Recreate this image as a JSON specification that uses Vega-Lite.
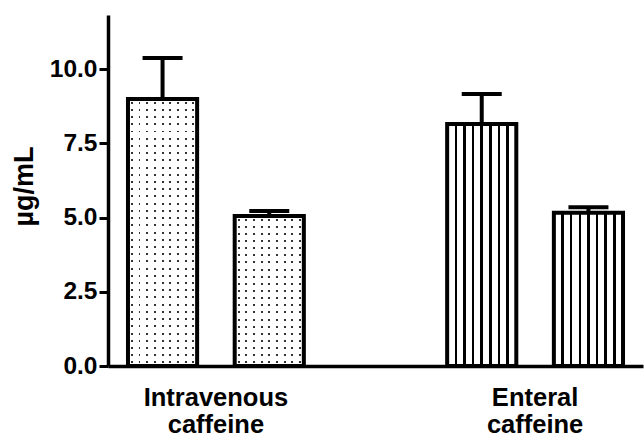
{
  "$schema": "https://vega.github.io/schema/vega-lite/v6.json",
  "autosize": "none",
  "width": 535,
  "height": 351,
  "padding": {"left": 108, "top": 15, "right": 1, "bottom": 78},
  "background": "white",
  "config": {"view": {"stroke": null}},
  "data": {"values": [
    {"group": "Intravenous caffeine", "sub": "A", "value": 8.99, "upper": 10.37},
    {"group": "Intravenous caffeine", "sub": "B", "value": 5.05, "upper": 5.22},
    {"group": "Enteral caffeine", "sub": "A", "value": 8.15, "upper": 9.16},
    {"group": "Enteral caffeine", "sub": "B", "value": 5.16, "upper": 5.35}
  ]},
  "encoding": {
    "x": {
      "field": "group", "type": "nominal",
      "sort": ["Intravenous caffeine", "Enteral caffeine"],
      "scale": {"paddingInner": 0.449, "paddingOuter": 0.0626},
      "axis": {
        "title": null, "labelAngle": 0, "ticks": false, "tickSize": 0,
        "labelExpr": "split(datum.label, ' ')",
        "labelFont": "Liberation Sans", "labelFontWeight": "bold", "labelFontSize": 25.5,
        "labelColor": "black", "labelLineHeight": 27, "labelPadding": 19, "labelDx": 7,
        "labelBaseline": "top",
        "domainColor": "black", "domainWidth": 3.5
      }
    },
    "xOffset": {"field": "sub", "type": "nominal", "scale": {"paddingInner": 0.352, "paddingOuter": 0}},
    "y": {
      "field": "value", "type": "quantitative",
      "scale": {"domain": [0, 11.82], "nice": false, "zero": true},
      "axis": {
        "title": "µg/mL", "values": [0, 2.5, 5, 7.5, 10], "format": ".1f", "grid": false,
        "labelFont": "Liberation Sans", "labelFontWeight": "bold", "labelFontSize": 24.5, "labelColor": "black",
        "labelPadding": 2, "tickSize": 9, "tickWidth": 3, "tickColor": "black",
        "domainColor": "black", "domainWidth": 3.5,
        "titleFont": "Liberation Sans", "titleFontWeight": "bold", "titleFontSize": 27, "titleColor": "black",
        "titleX": -70, "titleY": 171, "titleAngle": -90, "titleBaseline": "bottom", "titleAlign": "center"
      }
    }
  },
  "layer": [
    {
      "transform": [{"filter": "datum.group == 'Intravenous caffeine'"}],
      "mark": {"type": "bar", "strokeWidth": 0, "fill": {
        "gradient": "linear", "x1": 0, "y1": 0, "x2": 1, "y2": 0,
        "stops": [
          {"offset": 0, "color": "#fff"},
          {"offset": 0.0416, "color": "#fff"}, {"offset": 0.0416, "color": "#333"}, {"offset": 0.0696, "color": "#333"}, {"offset": 0.0696, "color": "#fff"},
          {"offset": 0.1527, "color": "#fff"}, {"offset": 0.1527, "color": "#333"}, {"offset": 0.1807, "color": "#333"}, {"offset": 0.1807, "color": "#fff"},
          {"offset": 0.2638, "color": "#fff"}, {"offset": 0.2638, "color": "#333"}, {"offset": 0.2918, "color": "#333"}, {"offset": 0.2918, "color": "#fff"},
          {"offset": 0.3749, "color": "#fff"}, {"offset": 0.3749, "color": "#333"}, {"offset": 0.4029, "color": "#333"}, {"offset": 0.4029, "color": "#fff"},
          {"offset": 0.486, "color": "#fff"}, {"offset": 0.486, "color": "#333"}, {"offset": 0.514, "color": "#333"}, {"offset": 0.514, "color": "#fff"},
          {"offset": 0.5971, "color": "#fff"}, {"offset": 0.5971, "color": "#333"}, {"offset": 0.6251, "color": "#333"}, {"offset": 0.6251, "color": "#fff"},
          {"offset": 0.7082, "color": "#fff"}, {"offset": 0.7082, "color": "#333"}, {"offset": 0.7362, "color": "#333"}, {"offset": 0.7362, "color": "#fff"},
          {"offset": 0.8193, "color": "#fff"}, {"offset": 0.8193, "color": "#333"}, {"offset": 0.8473, "color": "#333"}, {"offset": 0.8473, "color": "#fff"},
          {"offset": 0.9304, "color": "#fff"}, {"offset": 0.9304, "color": "#333"}, {"offset": 0.9584, "color": "#333"}, {"offset": 0.9584, "color": "#fff"},
          {"offset": 1, "color": "#fff"}
        ]
      }}
    },
    {
      "transform": [{"filter": "datum.group == 'Intravenous caffeine' && datum.sub == 'A'"}],
      "mark": {"type": "bar", "strokeWidth": 0, "fill": {
        "gradient": "linear", "x1": 0, "y1": 0, "x2": 0, "y2": 1,
        "stops": [
          {"offset": 0, "color": "#fff"},
          {"offset": 0.0098, "color": "#fff"}, {"offset": 0.0098, "color": "rgba(255,255,255,0)"}, {"offset": 0.0172, "color": "rgba(255,255,255,0)"}, {"offset": 0.0172, "color": "#fff"},
          {"offset": 0.0368, "color": "#fff"}, {"offset": 0.0368, "color": "rgba(255,255,255,0)"}, {"offset": 0.0442, "color": "rgba(255,255,255,0)"}, {"offset": 0.0442, "color": "#fff"},
          {"offset": 0.0639, "color": "#fff"}, {"offset": 0.0639, "color": "rgba(255,255,255,0)"}, {"offset": 0.0713, "color": "rgba(255,255,255,0)"}, {"offset": 0.0713, "color": "#fff"},
          {"offset": 0.0909, "color": "#fff"}, {"offset": 0.0909, "color": "rgba(255,255,255,0)"}, {"offset": 0.0983, "color": "rgba(255,255,255,0)"}, {"offset": 0.0983, "color": "#fff"},
          {"offset": 0.1179, "color": "#fff"}, {"offset": 0.1179, "color": "rgba(255,255,255,0)"}, {"offset": 0.1253, "color": "rgba(255,255,255,0)"}, {"offset": 0.1253, "color": "#fff"},
          {"offset": 0.1449, "color": "#fff"}, {"offset": 0.1449, "color": "rgba(255,255,255,0)"}, {"offset": 0.1523, "color": "rgba(255,255,255,0)"}, {"offset": 0.1523, "color": "#fff"},
          {"offset": 0.1720, "color": "#fff"}, {"offset": 0.1720, "color": "rgba(255,255,255,0)"}, {"offset": 0.1794, "color": "rgba(255,255,255,0)"}, {"offset": 0.1794, "color": "#fff"},
          {"offset": 0.1990, "color": "#fff"}, {"offset": 0.1990, "color": "rgba(255,255,255,0)"}, {"offset": 0.2064, "color": "rgba(255,255,255,0)"}, {"offset": 0.2064, "color": "#fff"},
          {"offset": 0.2260, "color": "#fff"}, {"offset": 0.2260, "color": "rgba(255,255,255,0)"}, {"offset": 0.2334, "color": "rgba(255,255,255,0)"}, {"offset": 0.2334, "color": "#fff"},
          {"offset": 0.2531, "color": "#fff"}, {"offset": 0.2531, "color": "rgba(255,255,255,0)"}, {"offset": 0.2605, "color": "rgba(255,255,255,0)"}, {"offset": 0.2605, "color": "#fff"},
          {"offset": 0.2801, "color": "#fff"}, {"offset": 0.2801, "color": "rgba(255,255,255,0)"}, {"offset": 0.2875, "color": "rgba(255,255,255,0)"}, {"offset": 0.2875, "color": "#fff"},
          {"offset": 0.3071, "color": "#fff"}, {"offset": 0.3071, "color": "rgba(255,255,255,0)"}, {"offset": 0.3145, "color": "rgba(255,255,255,0)"}, {"offset": 0.3145, "color": "#fff"},
          {"offset": 0.3341, "color": "#fff"}, {"offset": 0.3341, "color": "rgba(255,255,255,0)"}, {"offset": 0.3415, "color": "rgba(255,255,255,0)"}, {"offset": 0.3415, "color": "#fff"},
          {"offset": 0.3612, "color": "#fff"}, {"offset": 0.3612, "color": "rgba(255,255,255,0)"}, {"offset": 0.3686, "color": "rgba(255,255,255,0)"}, {"offset": 0.3686, "color": "#fff"},
          {"offset": 0.3882, "color": "#fff"}, {"offset": 0.3882, "color": "rgba(255,255,255,0)"}, {"offset": 0.3956, "color": "rgba(255,255,255,0)"}, {"offset": 0.3956, "color": "#fff"},
          {"offset": 0.4152, "color": "#fff"}, {"offset": 0.4152, "color": "rgba(255,255,255,0)"}, {"offset": 0.4226, "color": "rgba(255,255,255,0)"}, {"offset": 0.4226, "color": "#fff"},
          {"offset": 0.4422, "color": "#fff"}, {"offset": 0.4422, "color": "rgba(255,255,255,0)"}, {"offset": 0.4496, "color": "rgba(255,255,255,0)"}, {"offset": 0.4496, "color": "#fff"},
          {"offset": 0.4693, "color": "#fff"}, {"offset": 0.4693, "color": "rgba(255,255,255,0)"}, {"offset": 0.4767, "color": "rgba(255,255,255,0)"}, {"offset": 0.4767, "color": "#fff"},
          {"offset": 0.4963, "color": "#fff"}, {"offset": 0.4963, "color": "rgba(255,255,255,0)"}, {"offset": 0.5037, "color": "rgba(255,255,255,0)"}, {"offset": 0.5037, "color": "#fff"},
          {"offset": 0.5233, "color": "#fff"}, {"offset": 0.5233, "color": "rgba(255,255,255,0)"}, {"offset": 0.5307, "color": "rgba(255,255,255,0)"}, {"offset": 0.5307, "color": "#fff"},
          {"offset": 0.5504, "color": "#fff"}, {"offset": 0.5504, "color": "rgba(255,255,255,0)"}, {"offset": 0.5578, "color": "rgba(255,255,255,0)"}, {"offset": 0.5578, "color": "#fff"},
          {"offset": 0.5774, "color": "#fff"}, {"offset": 0.5774, "color": "rgba(255,255,255,0)"}, {"offset": 0.5848, "color": "rgba(255,255,255,0)"}, {"offset": 0.5848, "color": "#fff"},
          {"offset": 0.6044, "color": "#fff"}, {"offset": 0.6044, "color": "rgba(255,255,255,0)"}, {"offset": 0.6118, "color": "rgba(255,255,255,0)"}, {"offset": 0.6118, "color": "#fff"},
          {"offset": 0.6314, "color": "#fff"}, {"offset": 0.6314, "color": "rgba(255,255,255,0)"}, {"offset": 0.6388, "color": "rgba(255,255,255,0)"}, {"offset": 0.6388, "color": "#fff"},
          {"offset": 0.6585, "color": "#fff"}, {"offset": 0.6585, "color": "rgba(255,255,255,0)"}, {"offset": 0.6659, "color": "rgba(255,255,255,0)"}, {"offset": 0.6659, "color": "#fff"},
          {"offset": 0.6855, "color": "#fff"}, {"offset": 0.6855, "color": "rgba(255,255,255,0)"}, {"offset": 0.6929, "color": "rgba(255,255,255,0)"}, {"offset": 0.6929, "color": "#fff"},
          {"offset": 0.7125, "color": "#fff"}, {"offset": 0.7125, "color": "rgba(255,255,255,0)"}, {"offset": 0.7199, "color": "rgba(255,255,255,0)"}, {"offset": 0.7199, "color": "#fff"},
          {"offset": 0.7395, "color": "#fff"}, {"offset": 0.7395, "color": "rgba(255,255,255,0)"}, {"offset": 0.7469, "color": "rgba(255,255,255,0)"}, {"offset": 0.7469, "color": "#fff"},
          {"offset": 0.7666, "color": "#fff"}, {"offset": 0.7666, "color": "rgba(255,255,255,0)"}, {"offset": 0.7740, "color": "rgba(255,255,255,0)"}, {"offset": 0.7740, "color": "#fff"},
          {"offset": 0.7936, "color": "#fff"}, {"offset": 0.7936, "color": "rgba(255,255,255,0)"}, {"offset": 0.8010, "color": "rgba(255,255,255,0)"}, {"offset": 0.8010, "color": "#fff"},
          {"offset": 0.8206, "color": "#fff"}, {"offset": 0.8206, "color": "rgba(255,255,255,0)"}, {"offset": 0.8280, "color": "rgba(255,255,255,0)"}, {"offset": 0.8280, "color": "#fff"},
          {"offset": 0.8477, "color": "#fff"}, {"offset": 0.8477, "color": "rgba(255,255,255,0)"}, {"offset": 0.8551, "color": "rgba(255,255,255,0)"}, {"offset": 0.8551, "color": "#fff"},
          {"offset": 0.8747, "color": "#fff"}, {"offset": 0.8747, "color": "rgba(255,255,255,0)"}, {"offset": 0.8821, "color": "rgba(255,255,255,0)"}, {"offset": 0.8821, "color": "#fff"},
          {"offset": 0.9017, "color": "#fff"}, {"offset": 0.9017, "color": "rgba(255,255,255,0)"}, {"offset": 0.9091, "color": "rgba(255,255,255,0)"}, {"offset": 0.9091, "color": "#fff"},
          {"offset": 0.9287, "color": "#fff"}, {"offset": 0.9287, "color": "rgba(255,255,255,0)"}, {"offset": 0.9361, "color": "rgba(255,255,255,0)"}, {"offset": 0.9361, "color": "#fff"},
          {"offset": 0.9558, "color": "#fff"}, {"offset": 0.9558, "color": "rgba(255,255,255,0)"}, {"offset": 0.9632, "color": "rgba(255,255,255,0)"}, {"offset": 0.9632, "color": "#fff"},
          {"offset": 0.9828, "color": "#fff"}, {"offset": 0.9828, "color": "rgba(255,255,255,0)"}, {"offset": 0.9902, "color": "rgba(255,255,255,0)"}, {"offset": 0.9902, "color": "#fff"},
          {"offset": 1, "color": "#fff"}
        ]
      }}
    },
    {
      "transform": [{"filter": "datum.group == 'Intravenous caffeine' && datum.sub == 'B'"}],
      "mark": {"type": "bar", "strokeWidth": 0, "fill": {
        "gradient": "linear", "x1": 0, "y1": 0, "x2": 0, "y2": 1,
        "stops": [
          {"offset": 0, "color": "#fff"},
          {"offset": 0.0172, "color": "#fff"}, {"offset": 0.0172, "color": "rgba(255,255,255,0)"}, {"offset": 0.0304, "color": "rgba(255,255,255,0)"}, {"offset": 0.0304, "color": "#fff"},
          {"offset": 0.0648, "color": "#fff"}, {"offset": 0.0648, "color": "rgba(255,255,255,0)"}, {"offset": 0.0780, "color": "rgba(255,255,255,0)"}, {"offset": 0.0780, "color": "#fff"},
          {"offset": 0.1124, "color": "#fff"}, {"offset": 0.1124, "color": "rgba(255,255,255,0)"}, {"offset": 0.1256, "color": "rgba(255,255,255,0)"}, {"offset": 0.1256, "color": "#fff"},
          {"offset": 0.1601, "color": "#fff"}, {"offset": 0.1601, "color": "rgba(255,255,255,0)"}, {"offset": 0.1733, "color": "rgba(255,255,255,0)"}, {"offset": 0.1733, "color": "#fff"},
          {"offset": 0.2077, "color": "#fff"}, {"offset": 0.2077, "color": "rgba(255,255,255,0)"}, {"offset": 0.2209, "color": "rgba(255,255,255,0)"}, {"offset": 0.2209, "color": "#fff"},
          {"offset": 0.2553, "color": "#fff"}, {"offset": 0.2553, "color": "rgba(255,255,255,0)"}, {"offset": 0.2685, "color": "rgba(255,255,255,0)"}, {"offset": 0.2685, "color": "#fff"},
          {"offset": 0.3029, "color": "#fff"}, {"offset": 0.3029, "color": "rgba(255,255,255,0)"}, {"offset": 0.3161, "color": "rgba(255,255,255,0)"}, {"offset": 0.3161, "color": "#fff"},
          {"offset": 0.3505, "color": "#fff"}, {"offset": 0.3505, "color": "rgba(255,255,255,0)"}, {"offset": 0.3637, "color": "rgba(255,255,255,0)"}, {"offset": 0.3637, "color": "#fff"},
          {"offset": 0.3982, "color": "#fff"}, {"offset": 0.3982, "color": "rgba(255,255,255,0)"}, {"offset": 0.4114, "color": "rgba(255,255,255,0)"}, {"offset": 0.4114, "color": "#fff"},
          {"offset": 0.4458, "color": "#fff"}, {"offset": 0.4458, "color": "rgba(255,255,255,0)"}, {"offset": 0.4590, "color": "rgba(255,255,255,0)"}, {"offset": 0.4590, "color": "#fff"},
          {"offset": 0.4934, "color": "#fff"}, {"offset": 0.4934, "color": "rgba(255,255,255,0)"}, {"offset": 0.5066, "color": "rgba(255,255,255,0)"}, {"offset": 0.5066, "color": "#fff"},
          {"offset": 0.5410, "color": "#fff"}, {"offset": 0.5410, "color": "rgba(255,255,255,0)"}, {"offset": 0.5542, "color": "rgba(255,255,255,0)"}, {"offset": 0.5542, "color": "#fff"},
          {"offset": 0.5886, "color": "#fff"}, {"offset": 0.5886, "color": "rgba(255,255,255,0)"}, {"offset": 0.6018, "color": "rgba(255,255,255,0)"}, {"offset": 0.6018, "color": "#fff"},
          {"offset": 0.6363, "color": "#fff"}, {"offset": 0.6363, "color": "rgba(255,255,255,0)"}, {"offset": 0.6495, "color": "rgba(255,255,255,0)"}, {"offset": 0.6495, "color": "#fff"},
          {"offset": 0.6839, "color": "#fff"}, {"offset": 0.6839, "color": "rgba(255,255,255,0)"}, {"offset": 0.6971, "color": "rgba(255,255,255,0)"}, {"offset": 0.6971, "color": "#fff"},
          {"offset": 0.7315, "color": "#fff"}, {"offset": 0.7315, "color": "rgba(255,255,255,0)"}, {"offset": 0.7447, "color": "rgba(255,255,255,0)"}, {"offset": 0.7447, "color": "#fff"},
          {"offset": 0.7791, "color": "#fff"}, {"offset": 0.7791, "color": "rgba(255,255,255,0)"}, {"offset": 0.7923, "color": "rgba(255,255,255,0)"}, {"offset": 0.7923, "color": "#fff"},
          {"offset": 0.8267, "color": "#fff"}, {"offset": 0.8267, "color": "rgba(255,255,255,0)"}, {"offset": 0.8399, "color": "rgba(255,255,255,0)"}, {"offset": 0.8399, "color": "#fff"},
          {"offset": 0.8744, "color": "#fff"}, {"offset": 0.8744, "color": "rgba(255,255,255,0)"}, {"offset": 0.8876, "color": "rgba(255,255,255,0)"}, {"offset": 0.8876, "color": "#fff"},
          {"offset": 0.9220, "color": "#fff"}, {"offset": 0.9220, "color": "rgba(255,255,255,0)"}, {"offset": 0.9352, "color": "rgba(255,255,255,0)"}, {"offset": 0.9352, "color": "#fff"},
          {"offset": 0.9696, "color": "#fff"}, {"offset": 0.9696, "color": "rgba(255,255,255,0)"}, {"offset": 0.9828, "color": "rgba(255,255,255,0)"}, {"offset": 0.9828, "color": "#fff"},
          {"offset": 1, "color": "#fff"}
        ]
      }}
    },
    {
      "transform": [{"filter": "datum.group == 'Enteral caffeine'"}],
      "mark": {"type": "bar", "strokeWidth": 0, "fill": {
        "gradient": "linear", "x1": 0, "y1": 0, "x2": 1, "y2": 0,
        "stops": [
          {"offset": 0, "color": "#fff"},
          {"offset": 0.107, "color": "#fff"}, {"offset": 0.107, "color": "#000"}, {"offset": 0.143, "color": "#000"}, {"offset": 0.143, "color": "#fff"},
          {"offset": 0.232, "color": "#fff"}, {"offset": 0.232, "color": "#000"}, {"offset": 0.268, "color": "#000"}, {"offset": 0.268, "color": "#fff"},
          {"offset": 0.357, "color": "#fff"}, {"offset": 0.357, "color": "#000"}, {"offset": 0.393, "color": "#000"}, {"offset": 0.393, "color": "#fff"},
          {"offset": 0.482, "color": "#fff"}, {"offset": 0.482, "color": "#000"}, {"offset": 0.518, "color": "#000"}, {"offset": 0.518, "color": "#fff"},
          {"offset": 0.607, "color": "#fff"}, {"offset": 0.607, "color": "#000"}, {"offset": 0.643, "color": "#000"}, {"offset": 0.643, "color": "#fff"},
          {"offset": 0.732, "color": "#fff"}, {"offset": 0.732, "color": "#000"}, {"offset": 0.768, "color": "#000"}, {"offset": 0.768, "color": "#fff"},
          {"offset": 0.857, "color": "#fff"}, {"offset": 0.857, "color": "#000"}, {"offset": 0.893, "color": "#000"}, {"offset": 0.893, "color": "#fff"},
          {"offset": 1, "color": "#fff"}
        ]
      }}
    },
    {
      "mark": {"type": "bar", "fill": "white", "fillOpacity": 0, "stroke": "black", "strokeWidth": 4}
    },
    {
      "mark": {"type": "rule", "color": "black", "strokeWidth": 4},
      "encoding": {
        "y": {"field": "value", "type": "quantitative", "title": "µg/mL"},
        "y2": {"field": "upper"}
      }
    },
    {
      "mark": {"type": "tick", "color": "black", "size": 40, "thickness": 4, "opacity": 1},
      "encoding": {
        "y": {"field": "upper", "type": "quantitative", "title": "µg/mL"}
      }
    }
  ]
}
